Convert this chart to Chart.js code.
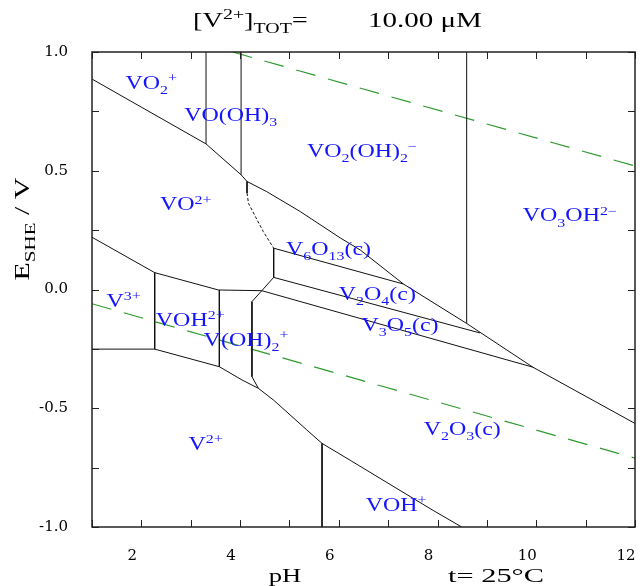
<!DOCTYPE html>
<html>
<head>
<meta charset="utf-8">
<script src="https://cdn.jsdelivr.net/npm/chart.js@4/dist/chart.umd.min.js"></script>
<style>
  body { margin: 0; background: #fff; }
  #wrap { width: 643px; height: 586px; position: relative; }
</style>
</head>
<body>
<div id="wrap"><canvas id="pourbaix"></canvas></div>
<script>
const vo2Vo2Ph = [1.0, 3.31],            vo2Vo2E = [0.886, 0.613]
const voOh3Vo2Ph = [3.31, 4.02],         voOh3Vo2E = [0.613, 0.483]
const vo2VoOh3Ph = [3.31, 3.31],         vo2VoOh3E = [0.613, 1.0]
const voOh3Vo2Oh2Ph = [4.02, 4.02],      voOh3Vo2Oh2E = [0.483, 1.0]
const upperPh = [4.02, 4.14, 4.54, 5.22, 6.03, 6.43, 7.31, 8.59, 9.93, 12.0]
const upperE = [0.483, 0.455, 0.412, 0.328, 0.217, 0.167, 0.023, -0.143, -0.327, -0.564]
const vo2Oh2Vo3OhPh = [8.59, 8.59],      vo2Oh2Vo3OhE = [-0.143, 1.0]
const stubPh = [4.14, 4.14],             stubE = [0.455, 0.406]
const vo2V6o13Ph = [4.14, 4.17, 4.31, 4.47, 4.68]
const vo2V6o13E = [0.406, 0.363, 0.307, 0.244, 0.174]
const v6o13LeftPh = [4.68, 4.68],        v6o13LeftE = [0.174, 0.051]
const v6o13V2o4Ph = [4.68, 7.31],        v6o13V2o4E = [0.174, 0.023]
const v2o4V3o5Ph = [4.68, 8.86],         v2o4V3o5E = [0.051, -0.183]
const v3o5V2o3Ph = [4.44, 9.93],         v3o5V2o3E = [-0.005, -0.327]
const jointPh = [4.44, 4.68],            jointE = [-0.005, 0.051]
const vOh2TopPh = [3.56, 4.44],          vOh2TopE = [-0.002, -0.005]
const vo2V3Ph = [1.0, 2.27, 3.56],       vo2V3E = [0.220, 0.071, -0.002]
const v3VohPh = [2.27, 2.27],            v3VohE = [0.071, -0.251]
const v3V2Ph = [1.0, 2.27],              v3V2E = [-0.251, -0.251]
const v2UpperPh = [2.27, 3.58, 4.04, 4.37, 4.68, 5.35, 5.66, 6.23, 7.24, 7.91, 8.49]
const v2UpperE = [-0.251, -0.325, -0.381, -0.416, -0.466, -0.591, -0.648, -0.719, -0.846, -0.930, -1.0]
const vohVOh2Ph = [3.58, 3.58],          vohVOh2E = [-0.002, -0.325]
const vOh2V2o3Ph = [4.44, 4.27, 4.24, 4.24, 4.37]
const vOh2V2o3E = [-0.005, -0.044, -0.051, -0.367, -0.416]
const v2VohPh = [5.66, 5.66],            v2VohE = [-0.648, -1.0]
// water stability limits (green dashes)
const o2Ph = [3.85, 12.0],               o2E = [1.0, 0.52]
const h2Ph = [1.0, 12.0],                h2E = [-0.06, -0.71]

// field names: [text, 0 normal / -1 sub / 1 sup]
const regionNames = [
  [['VO', 0], ['2', -1], ['+', 1]],
  [['VO(OH)', 0], ['3', -1]],
  [['VO', 0], ['2', -1], ['(OH)', 0], ['2', -1], ['\u2212', 1]],
  [['VO', 0], ['2+', 1]],
  [['VO', 0], ['3', -1], ['OH', 0], ['2\u2212', 1]],
  [['V', 0], ['6', -1], ['O', 0], ['13', -1], ['(c)', 0]],
  [['V', 0], ['2', -1], ['O', 0], ['4', -1], ['(c)', 0]],
  [['V', 0], ['3', -1], ['O', 0], ['5', -1], ['(c)', 0]],
  [['V', 0], ['3+', 1]],
  [['VOH', 0], ['2+', 1]],
  [['V(OH)', 0], ['2', -1], ['+', 1]],
  [['V', 0], ['2+', 1]],
  [['V', 0], ['2', -1], ['O', 0], ['3', -1], ['(c)', 0]],
  [['VOH', 0], ['+', 1]]
]
const regionPh = [2.20, 3.81, 6.47, 2.90, 10.68, 5.79, 6.78, 7.24, 1.64, 2.99, 4.12, 3.30, 8.50, 7.16]
const regionE = [0.871, 0.736, 0.584, 0.358, 0.312, 0.170, -0.019, -0.149, -0.047, -0.129, -0.212, -0.651, -0.588, -0.908]

const xTicks = { min: 1, max: 12, step: 1 }
const yTicks = { min: -1, max: 1, step: 0.25 }

const solid = [
  [vo2Vo2Ph, vo2Vo2E], [voOh3Vo2Ph, voOh3Vo2E], [vo2VoOh3Ph, vo2VoOh3E],
  [voOh3Vo2Oh2Ph, voOh3Vo2Oh2E], [upperPh, upperE], [vo2Oh2Vo3OhPh, vo2Oh2Vo3OhE],
  [stubPh, stubE], [v6o13LeftPh, v6o13LeftE], [v6o13V2o4Ph, v6o13V2o4E],
  [v2o4V3o5Ph, v2o4V3o5E], [v3o5V2o3Ph, v3o5V2o3E], [jointPh, jointE],
  [vOh2TopPh, vOh2TopE], [vo2V3Ph, vo2V3E], [v3VohPh, v3VohE], [v3V2Ph, v3V2E],
  [v2UpperPh, v2UpperE], [vohVOh2Ph, vohVOh2E], [vOh2V2o3Ph, vOh2V2o3E], [v2VohPh, v2VohE]
]

function pts(ph, e) {
  return ph.map((p, i) => ({ x: p, y: e[i] }))
}

var datasets = solid.map(l => ({
  data: pts(l[0], l[1]), borderColor: '#111', borderWidth: 1
}))
datasets.push({ data: pts(vo2V6o13Ph, vo2V6o13E), borderColor: '#111', borderWidth: 1, borderDash: [3, 2] })
datasets.push({ data: pts(o2Ph, o2E), borderColor: '#2e9a2e', borderWidth: 1.2, borderDash: [20, 13] })
datasets.push({ data: pts(h2Ph, h2E), borderColor: '#2e9a2e', borderWidth: 1.2, borderDash: [20, 13] })
datasets.forEach(d => { d.showLine = true; d.pointRadius = 0; d.tension = 0; d.fill = false })

function richText(ctx, parts, x, y, size, stretch, align) {
  var small = Math.round(size * 0.68)
  var w = 0
  parts.forEach(p => {
    ctx.font = (p[1] ? small : size) + 'px "Liberation Serif"'
    w += ctx.measureText(p[0]).width
  })
  ctx.save()
  ctx.translate(x, y)
  ctx.scale(stretch, 1)
  ctx.textAlign = 'left'
  ctx.textBaseline = 'alphabetic'
  var cx = align === 'left' ? 0 : -w / 2
  var base = size * 0.33
  parts.forEach(p => {
    ctx.font = (p[1] ? small : size) + 'px "Liberation Serif"'
    var dy = p[1] < 0 ? size * 0.3 : p[1] > 0 ? -size * 0.38 : 0
    ctx.fillText(p[0], cx, base + dy)
    cx += ctx.measureText(p[0]).width
  })
  ctx.restore()
}

const decor = {
  id: 'decor',
  afterDraw(chart) {
    const ctx = chart.ctx, a = chart.chartArea
    const x = chart.scales.x, y = chart.scales.y
    ctx.save()
    // inward tick marks on all four sides
    ctx.strokeStyle = '#222'
    ctx.lineWidth = 1
    ctx.beginPath()
    x.ticks.forEach(t => {
      var px = Math.round(x.getPixelForValue(t.value)) + 0.5
      ctx.moveTo(px, a.bottom); ctx.lineTo(px, a.bottom - 7)
      ctx.moveTo(px, a.top); ctx.lineTo(px, a.top + 7)
    })
    y.ticks.forEach(t => {
      var py = Math.round(y.getPixelForValue(t.value)) + 0.5
      ctx.moveTo(a.left, py); ctx.lineTo(a.left + 7, py)
      ctx.moveTo(a.right, py); ctx.lineTo(a.right - 7, py)
    })
    ctx.stroke()
    ctx.lineWidth = 1.5
    ctx.strokeRect(a.left, a.top, a.right - a.left, a.bottom - a.top)

    // field labels
    ctx.fillStyle = '#1414ff'
    regionNames.forEach((n, i) => {
      richText(ctx, n, x.getPixelForValue(regionPh[i]), y.getPixelForValue(regionE[i]), 18, 1.33)
    })

    // title and axis captions
    ctx.fillStyle = '#000'
    richText(ctx, [['[V', 0], ['2+', 1], [']', 0], ['TOT', -1], ['=', 0]], 193, 20, 20, 1.42, 'left')
    richText(ctx, [['10.00 \u03bcM', 0]], 368, 20, 20, 1.45, 'left')
    richText(ctx, [['pH', 0]], 285, 576, 19, 1.4)
    richText(ctx, [['t= 25\u00b0C', 0]], 496, 576, 19, 1.6)
    ctx.translate(22, 229)
    ctx.rotate(-Math.PI / 2)
    richText(ctx, [['E', 0], ['SHE', -1], [' / V', 0]], 0, 0, 20, 1.5)
    ctx.restore()
  }
}

new Chart(document.getElementById('pourbaix'), {
  type: 'scatter',
  data: { datasets: datasets },
  options: {
    responsive: true,
    maintainAspectRatio: false,
    animation: false,
    layout: { autoPadding: false, padding: { top: 52, right: 8, left: 0, bottom: 0 } },
    plugins: { legend: { display: false }, tooltip: { enabled: false }, title: { display: false } },
    elements: { line: { borderJoinStyle: 'round' } },
    scales: {
      x: {
        type: 'linear',
        min: xTicks.min, max: xTicks.max,
        grid: { display: false },
        border: { display: false },
        afterFit: s => { s.height = 59; s.paddingLeft = 0; s.paddingRight = 0 },
        ticks: {
          stepSize: xTicks.step, autoSkip: false, maxRotation: 0,
          padding: 12, labelOffset: -9, color: '#000',
          font: { family: 'DejaVu Serif', size: 15 },
          callback: v => (v % 2 === 0 ? String(v) : '')
        }
      },
      y: {
        type: 'linear',
        min: yTicks.min, max: yTicks.max,
        grid: { display: false },
        border: { display: false },
        afterFit: s => { s.width = 92; s.paddingTop = 0; s.paddingBottom = 0 },
        ticks: {
          stepSize: yTicks.step, autoSkip: false,
          padding: 16, color: '#000',
          font: { family: 'DejaVu Serif', size: 15 },
          callback: v => (Math.abs(v * 2 - Math.round(v * 2)) < 1e-9 ? v.toFixed(1) : '')
        }
      }
    }
  },
  plugins: [decor]
})
</script>
</body>
</html>
